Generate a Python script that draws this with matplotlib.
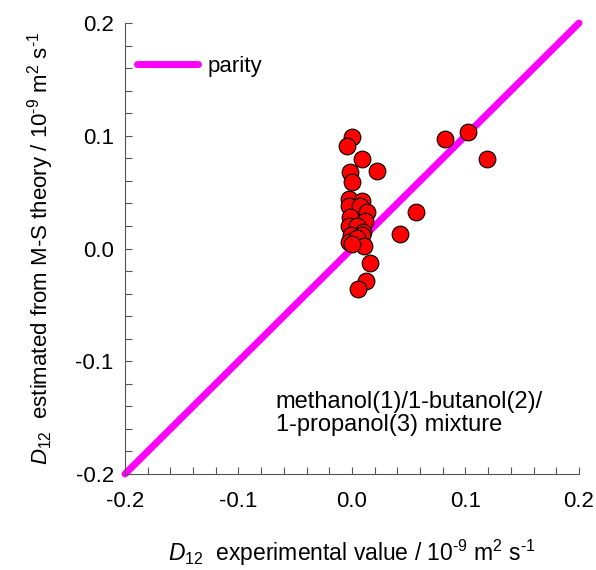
import matplotlib
matplotlib.use("Agg")
import matplotlib.pyplot as plt
from matplotlib.ticker import MultipleLocator

plt.rcParams['font.family'] = ['Liberation Sans', 'DejaVu Sans']
plt.rcParams['mathtext.fontset'] = 'custom'
plt.rcParams['mathtext.rm'] = 'Liberation Sans'
plt.rcParams['mathtext.it'] = 'Liberation Sans:italic'

# experimental vs estimated D12 (10^-9 m2/s)
d_exp = [0.000, -0.004, 0.009, 0.022, -0.002, 0.000, 0.082, 0.102, 0.119,
         0.056, 0.042, 0.016, 0.012, 0.005,
         -0.003, 0.0085, -0.003, 0.0075, 0.013, -0.002, 0.0115, -0.003,
         0.004, 0.010, -0.001, 0.0085, -0.003, 0.004, 0.0105, 0.000]
d_est = [0.099, 0.091, 0.079, 0.069, 0.068, 0.059, 0.097, 0.103, 0.079,
         0.032, 0.013, -0.013, -0.029, -0.036,
         0.044, 0.042, 0.038, 0.038, 0.032, 0.028, 0.024, 0.020,
         0.020, 0.015, 0.012, 0.012, 0.006, 0.009, 0.002, 0.004]
parity = [-0.2, 0.2]

fig = plt.figure(figsize=(5.96, 5.70), dpi=100)
ax = fig.add_axes([0.2097, 0.1684, 0.7617, 0.7912])

ax.plot(parity, parity, color='#FF00FF', lw=5, solid_capstyle='round',
        clip_on=False, zorder=2, label='parity')
ax.scatter(d_exp, d_est, s=145, color='#FF0000', edgecolors='black',
           linewidths=0.8, zorder=3)

ax.set_xlim(-0.2, 0.2)
ax.set_ylim(-0.2, 0.2)
ax.xaxis.set_major_locator(MultipleLocator(0.1))
ax.yaxis.set_major_locator(MultipleLocator(0.1))
ax.xaxis.set_minor_locator(MultipleLocator(0.02))
ax.yaxis.set_minor_locator(MultipleLocator(0.02))
ax.xaxis.set_major_formatter(plt.FormatStrFormatter('%.1f'))
ax.yaxis.set_major_formatter(plt.FormatStrFormatter('%.1f'))
ax.tick_params(which='both', direction='in', length=5, width=0.8,
               labelsize=16, color='#555555')
ax.tick_params(axis='x', pad=12)
ax.tick_params(axis='y', pad=8)
ax.spines['top'].set_visible(False)
ax.spines['right'].set_visible(False)
for s in ('left', 'bottom'):
    ax.spines[s].set_color('#555555')

ax.set_xlabel(r'$D_{12}$  experimental value / 10$^{\text{-}9}$ m$^2$ s$^{\text{-}1}$',
              fontsize=16.5, labelpad=19)
ax.set_ylabel(r'$D_{12}$  estimated from M-S theory / 10$^{\text{-}9}$ m$^2$ s$^{\text{-}1}$',
              fontsize=16, labelpad=14)

ax.legend(loc='upper left', bbox_to_anchor=(0.026, 0.927), frameon=False,
          fontsize=16, handlelength=2.75, handletextpad=0.45,
          borderaxespad=0, borderpad=0)
ax.text(-0.067, -0.166, 'methanol(1)/1-butanol(2)/\n1-propanol(3) mixture',
        fontsize=17, ha='left', va='bottom', linespacing=1.05)

fig.savefig('out.png', dpi=100)
